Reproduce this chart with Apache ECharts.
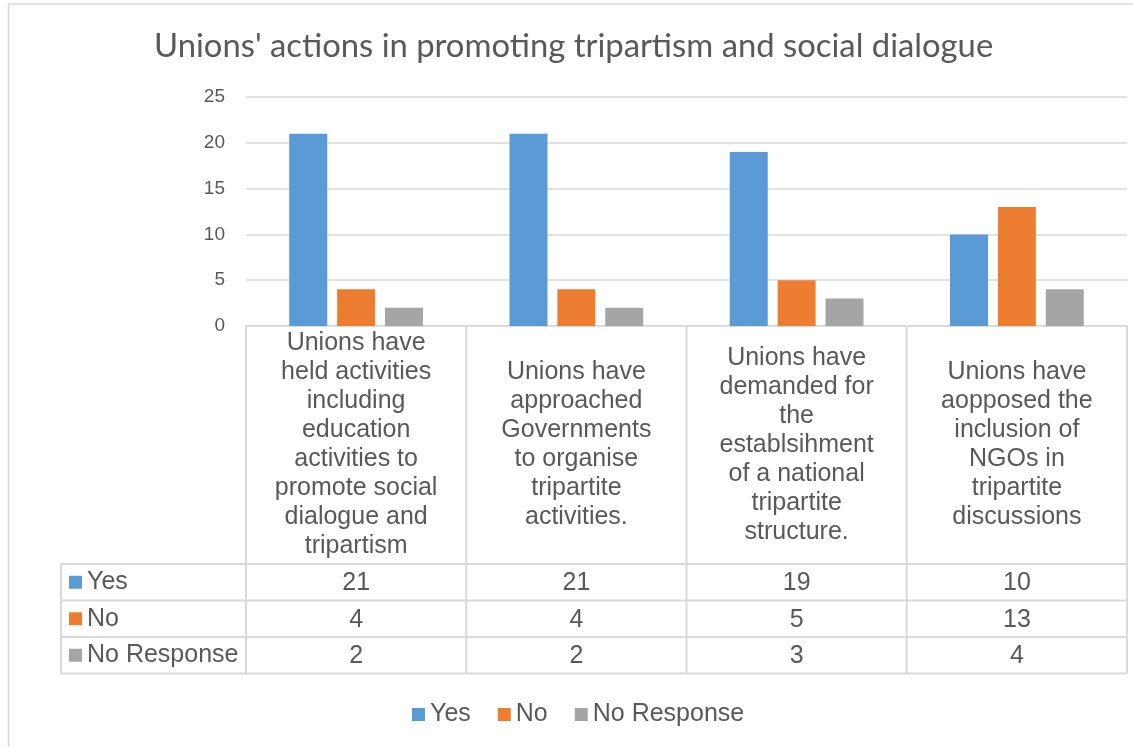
<!DOCTYPE html>
<html>
<head>
<meta charset="utf-8">
<script src="https://cdn.jsdelivr.net/npm/echarts@6/dist/echarts.min.js"></script>
<style>
  html, body { margin: 0; padding: 0; background: #ffffff; }
  #chart { width: 1133px; height: 747px; }
</style>
</head>
<body>
<div id="chart"></div>
<script>
// Survey question categories (line breaks as they wrap in the table header)
const categories = [
  'Unions have\nheld activities\nincluding\neducation\nactivities to\npromote social\ndialogue and\ntripartism',
  'Unions have\napproached\nGovernments\nto organise\ntripartite\nactivities.',
  'Unions have\ndemanded for\nthe\nestablsihment\nof a national\ntripartite\nstructure.',
  'Unions have\naopposed the\ninclusion of\nNGOs in\ntripartite\ndiscussions'
];
const seriesNames = ['Yes', 'No', 'No Response'];
const yesValues = [21, 21, 19, 10];
const noValues = [4, 4, 5, 13];
const noResponseValues = [2, 2, 3, 4];
const yTicks = [0, 5, 10, 15, 20, 25];

const colors = ['#5B9BD5', '#ED7D31', '#A5A5A5'];
const textColor = '#595959';
const lineColor = '#D9D9D9';
const font = 'Liberation Sans';
const tableFontSize = 25;
const valueRows = [yesValues, noValues, noResponseValues];

const chart = echarts.init(document.getElementById('chart'));

const option = {
  animation: false,
  color: colors,
  title: {
    text: "Unions' actions in promoting tripartism and social dialogue",
    left: 149,
    top: 25,
    textStyle: { fontFamily: 'Lato', fontSize: 32.8, fontWeight: 'normal', color: textColor }
  },
  legend: {
    data: seriesNames,
    top: 697,
    left: 407,
    icon: 'rect',
    itemWidth: 13,
    itemHeight: 13,
    itemGap: 27,
    textStyle: { fontFamily: font, fontSize: tableFontSize, color: textColor }
  },
  grid: { left: 246, right: 6, top: 97, bottom: 421, containLabel: false },
  xAxis: {
    type: 'category',
    data: categories,
    axisLine: { show: true, lineStyle: { color: lineColor, width: 1.5 } },
    axisTick: { show: false },
    axisLabel: {
      interval: 0,
      margin: 119,
      verticalAlign: 'middle',
      align: 'center',
      lineHeight: 29,
      fontFamily: font,
      fontSize: tableFontSize,
      color: textColor
    }
  },
  yAxis: {
    type: 'value',
    min: yTicks[0],
    max: yTicks[yTicks.length - 1],
    interval: 5,
    axisLine: { show: false },
    axisTick: { show: false },
    axisLabel: { margin: 21, fontFamily: font, fontSize: 19, color: textColor },
    splitLine: { lineStyle: { color: lineColor, width: 1.5 } }
  },
  series: [
    { name: seriesNames[0], type: 'bar', data: yesValues, barWidth: 38, barGap: '26%' },
    { name: seriesNames[1], type: 'bar', data: noValues, barWidth: 38, barGap: '26%' },
    { name: seriesNames[2], type: 'bar', data: noResponseValues, barWidth: 38, barGap: '26%' }
  ]
};
chart.setOption(option);

// Data table beneath the axis, laid out from the axis scale
function buildTable() {
  const c0 = chart.convertToPixel({ xAxisIndex: 0 }, 0);
  const c1 = chart.convertToPixel({ xAxisIndex: 0 }, 1);
  const step = c1 - c0;
  const axisY = chart.convertToPixel({ yAxisIndex: 0 }, 0);
  const headerBottom = axisY + 238;
  const rowH = 36.5;
  const tableLeft = 61;
  const edges = [];
  for (let i = 0; i <= categories.length; i++) edges.push(c0 - step / 2 + i * step);
  const right = edges[edges.length - 1];
  const bottom = headerBottom + rowH * valueRows.length;
  const ls = { stroke: lineColor, lineWidth: 2 };
  const els = [];

  // outer frame of the chart area
  els.push({ type: 'line', shape: { x1: 8.5, y1: 4, x2: 1133, y2: 4 }, style: { stroke: lineColor, lineWidth: 1.5 } });
  els.push({ type: 'line', shape: { x1: 8.5, y1: 4, x2: 8.5, y2: 747 }, style: { stroke: lineColor, lineWidth: 1.5 } });

  // vertical column dividers
  edges.forEach(function (x) {
    els.push({ type: 'line', shape: { x1: x, y1: axisY, x2: x, y2: bottom }, style: ls });
  });
  els.push({ type: 'line', shape: { x1: tableLeft, y1: headerBottom, x2: tableLeft, y2: bottom }, style: ls });
  // horizontal row lines
  for (let r = 0; r <= valueRows.length; r++) {
    const y = headerBottom + r * rowH;
    els.push({ type: 'line', shape: { x1: tableLeft, y1: y, x2: right, y2: y }, style: ls });
  }
  // row headers with colour keys, and values
  valueRows.forEach(function (vals, r) {
    const cy = headerBottom + (r + 0.5) * rowH;
    els.push({ type: 'rect', shape: { x: 69, y: cy - 6.5, width: 13, height: 13 }, style: { fill: colors[r] } });
    els.push({ type: 'text', x: 87, y: cy, style: {
      text: seriesNames[r], fill: textColor, fontFamily: font, fontSize: tableFontSize,
      verticalAlign: 'middle', align: 'left' } });
    vals.forEach(function (v, i) {
      els.push({ type: 'text', x: c0 + i * step, y: cy + 1, style: {
        text: String(v), fill: textColor, fontFamily: font, fontSize: tableFontSize,
        verticalAlign: 'middle', align: 'center' } });
    });
  });
  chart.setOption({ graphic: { elements: els } });
}
buildTable();
</script>
</body>
</html>
